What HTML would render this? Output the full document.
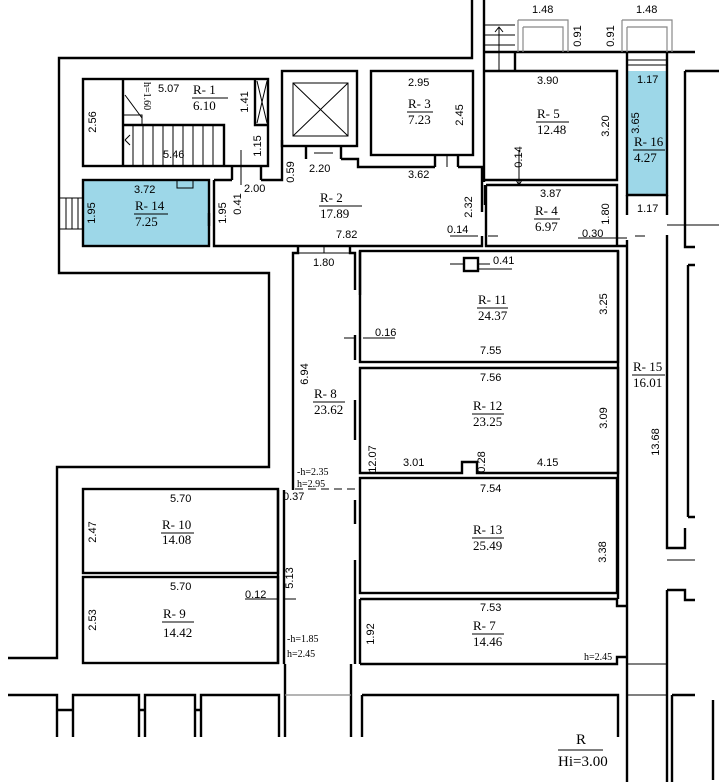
<!DOCTYPE html>
<html><head><meta charset="utf-8"><style>
html,body{margin:0;padding:0;background:#fff;}
svg{display:block;}
.w{stroke:#000;stroke-width:2.4;fill:none;}
.t{stroke:#000;stroke-width:1;fill:none;}
.g{stroke:#888;stroke-width:1.2;fill:none;}
.d{font-family:"Liberation Sans",sans-serif;font-size:11px;fill:#000;}
.v{font-family:"Liberation Sans",sans-serif;font-size:11px;fill:#000;text-anchor:middle;}
.r{font-family:"Liberation Serif",serif;font-size:13px;fill:#000;}
.s{font-family:"Liberation Serif",serif;font-size:10px;fill:#000;}
</style></head><body>
<svg width="719" height="782" viewBox="0 0 719 782" xmlns="http://www.w3.org/2000/svg">
<rect x="83" y="180" width="126" height="66" fill="#9dd7e8"/>
<rect x="627" y="71" width="40" height="124" fill="#9dd7e8"/>

<path class="w" d="M472 0 V58 H59 V273 H269 V467 H57 V658 H8"/>
<rect class="w" x="83" y="79" width="185" height="87"/>
<path class="w" d="M123 79 V166 M123 125 H224 V166"/>
<path class="t" d="M133 125 V166 M143 125 V166 M153 125 V166 M163 125 V166 M173 125 V166 M183 125 V166 M193 125 V166 M203 125 V166 M213 125 V166 M123 115 H142 V125 M125 95 L142 118 M125 140 L130 135 M125 140 L130 145"/>
<path class="w" d="M255 79 V125 H268"/>
<path class="t" d="M257 81 L267 123 M267 81 L257 123"/>
<path class="w" d="M232 166 V180 M261 166 V180"/>
<path class="t" d="M241 150 V180 M241 180 V185"/>
<rect class="w" x="83" y="180" width="126" height="66"/>
<rect class="t" x="177" y="180" width="16" height="8" fill="#fff"/>
<path class="t" d="M60 198 H83 M60 229 H83 M66 198 V229 M72 198 V229 M78 198 V229"/>
<path class="w" d="M209 213 V226"/>
<path class="t" d="M214 213 V246"/>
<path class="w" d="M214 180 H232 M261 180 H282 V140 M341 159 H358 V167 H435 M458 167 H482 V212 M482 236 V246 H214 V180"/>
<rect class="w" x="282" y="71" width="75" height="75"/>
<rect class="t" x="293" y="83" width="55" height="53"/>
<path class="t" d="M293 83 L348 136 M348 83 L293 136 M314 153 H333"/>
<path class="w" d="M306 146 V159 M341 146 V159"/>
<rect class="w" x="371" y="71" width="102" height="84"/>
<path class="w" d="M435 155 V167 M458 155 V167"/>
<path class="t" d="M447 155 V167"/>
<path class="w" d="M484 0 V182 M484 52 H695"/>
<path class="t" d="M484 25 H515 M484 35 H515 M484 45 H515 M499 71 V27 M495 32 L499 27 L503 32"/>
<path class="w" d="M515 52 V71 H617 V180 H484 M484 71 H515"/>
<path class="g" d="M518 20 H568 V52 M518 20 V52 M523 27 H563 V52 M523 27 V52"/>
<path class="g" d="M622 20 H672 V52 M622 20 V52 M627 27 H667 V52 M627 27 V52"/>
<path class="w" d="M627 52 V195 H667 V52 M685 71 V247 H695 M685 71 H719"/>
<path class="t" d="M627 60 H667 M627 65 H667"/>
<path class="w" d="M486 185 H617 V246 H486 V185 M485 185 V205 M617 246 H627"/>
<path class="t" d="M519 150 V185 M516 180 L519 185 L522 180 M578 238 H627 M635 236 H645"/>
<path class="t" d="M450 236 H478 M488 236 H498"/>
<path class="w" d="M627 195 V215 M627 240 V782 M667 195 V215 M667 235 V548 H685 V528 M688 265 V517 M688 265 H695 M688 517 H695"/>
<path class="w" d="M667 590 H685 V600 H695 M667 590 V782 M672 695 V782 M672 695 H695"/>
<path class="t" d="M627 664 H667 M627 695 H667 M667 560 H695 M667 225 H719"/>
<path class="w" d="M713 700 V780"/>
<path class="w" d="M298 246 V253 H293 V490 M350 246 V253 H355 V290 M355 335 V360 M355 400 V440 M355 500 V524 M355 560 V664 M360 251 V295"/>
<path class="t" d="M324 246 V253 M298 253 H350"/>
<path class="t" d="M295 489 H355" stroke-dasharray="8,5"/>
<path class="w" d="M278 490 V664 M284 490 V664 M285 664 V695 M351 664 V695"/>
<rect class="w" x="360" y="251" width="258" height="111"/>
<rect class="w" x="464" y="258" width="14" height="13"/>
<path class="t" d="M450 264 H464 M478 264 H490 M478 269 H512 M344 338 H356 M363 338 H395"/>
<path class="w" d="M360 368 H618 V473 H477 V462 H462 V473 H360 Z"/>
<rect class="w" x="360" y="478" width="257" height="115"/>
<path class="w" d="M360 599 H617 V606 H627 M360 664 H617 V657 H627 M360 599 V664"/>
<path class="w" d="M618 251 V599"/>
<rect class="w" x="83" y="489" width="195" height="84"/>
<rect class="w" x="83" y="577" width="195" height="86"/>
<path class="t" d="M245 599 H278 M284 599 H296"/>
<path class="w" d="M8 695 H57 V710 H73 V695 H139 V710 H145 V695 H195 V710 H201 V695 H279 V737 M57 710 V737 M73 710 V737 M139 710 V737 M145 710 V737 M195 710 V737 M201 710 V737 M285 695 V737 M351 695 V737 M362 695 V737 M362 695 H618 V737"/>
<path class="g" d="M285 695 H351"/>

<g class="d">
<text x="158" y="92">5.07</text><text x="163" y="158">5.46</text>
<text x="244" y="192">2.00</text>
<text x="134" y="193">3.72</text>
<text x="309" y="172">2.20</text>
<text x="408" y="178">3.62</text>
<text x="336" y="238">7.82</text>
<text x="447" y="233">0.14</text>
<text x="408" y="86">2.95</text>
<text x="537" y="84">3.90</text>
<text x="540" y="197">3.87</text>
<text x="582" y="237">0.30</text>
<text x="532" y="13">1.48</text><text x="636" y="13">1.48</text>
<text x="637" y="83">1.17</text>
<text x="637" y="212">1.17</text>
<text x="313" y="266">1.80</text>
<text x="493" y="264">0.41</text>
<text x="375" y="336">0.16</text>
<text x="480" y="354">7.55</text>
<text x="480" y="381">7.56</text>
<text x="403" y="466">3.01</text><text x="537" y="466">4.15</text>
<text x="480" y="492">7.54</text>
<text x="480" y="611">7.53</text>
<text x="283" y="500">0.37</text>
<text x="170" y="502">5.70</text><text x="170" y="590">5.70</text>
<text x="245" y="598">0.12</text>
</g>
<g class="v">
<text transform="translate(92,122) rotate(-90)" dy="4">2.56</text>
<text transform="translate(244,102) rotate(-90)" dy="4">1.41</text>
<text transform="translate(257,146) rotate(-90)" dy="4">1.15</text>
<text transform="translate(91,213) rotate(-90)" dy="4">1.95</text>
<text transform="translate(222,213) rotate(-90)" dy="4">1.95</text>
<text transform="translate(237,204) rotate(-90)" dy="4">0.41</text>
<text transform="translate(290,172) rotate(-90)" dy="4">0.59</text>
<text transform="translate(459,115) rotate(-90)" dy="4">2.45</text>
<text transform="translate(605,126) rotate(-90)" dy="4">3.20</text>
<text transform="translate(518,157) rotate(-90)" dy="4">0.14</text>
<text transform="translate(468,207) rotate(-90)" dy="4">2.32</text>
<text transform="translate(605,214) rotate(-90)" dy="4">1.80</text>
<text transform="translate(635,123) rotate(-90)" dy="4">3.65</text>
<text transform="translate(577,36) rotate(-90)" dy="4">0.91</text>
<text transform="translate(610,36) rotate(-90)" dy="4">0.91</text>
<text transform="translate(304,374) rotate(-90)" dy="4">6.94</text>
<text transform="translate(372,459) rotate(-90)" dy="4">12.07</text>
<text transform="translate(603,304) rotate(-90)" dy="4">3.25</text>
<text transform="translate(603,418) rotate(-90)" dy="4">3.09</text>
<text transform="translate(481,462) rotate(-90)" dy="4">0.28</text>
<text transform="translate(602,552) rotate(-90)" dy="4">3.38</text>
<text transform="translate(370,634) rotate(-90)" dy="4">1.92</text>
<text transform="translate(655,442) rotate(-90)" dy="4">13.68</text>
<text transform="translate(92,532) rotate(-90)" dy="4">2.47</text>
<text transform="translate(92,620) rotate(-90)" dy="4">2.53</text>
<text transform="translate(289,578) rotate(-90)" dy="4">5.13</text>
</g>
<g class="s">
<text transform="translate(147,96) rotate(90)" text-anchor="middle" dy="3">h=1.60</text>
<text x="297" y="475">-h=2.35</text><text x="297" y="487">h=2.95</text>
<text x="287" y="642">-h=1.85</text><text x="287" y="657">h=2.45</text>
<text x="584" y="660">h=2.45</text>
</g>
<g class="r">
<text x="193" y="94">R- 1</text><path class="t" d="M192 98 H228"/><text x="193" y="110">6.10</text>
<text x="135" y="210">R- 14</text><path class="t" d="M134 214 H168"/><text x="135" y="226">7.25</text>
<text x="320" y="202">R- 2</text><path class="t" d="M319 206 H362"/><text x="320" y="218">17.89</text>
<text x="408" y="108">R- 3</text><path class="t" d="M407 112 H433"/><text x="408" y="124">7.23</text>
<text x="537" y="118">R- 5</text><path class="t" d="M536 122 H569"/><text x="537" y="134">12.48</text>
<text x="634" y="146">R- 16</text><path class="t" d="M633 150 H665"/><text x="634" y="162">4.27</text>
<text x="535" y="215">R- 4</text><path class="t" d="M534 219 H560"/><text x="535" y="231">6.97</text>
<text x="478" y="304">R- 11</text><path class="t" d="M477 308 H508"/><text x="478" y="320">24.37</text>
<text x="473" y="410">R- 12</text><path class="t" d="M472 414 H504"/><text x="473" y="426">23.25</text>
<text x="473" y="534">R- 13</text><path class="t" d="M472 538 H504"/><text x="473" y="550">25.49</text>
<text x="473" y="630">R- 7</text><path class="t" d="M472 634 H504"/><text x="473" y="646">14.46</text>
<text x="633" y="371">R- 15</text><path class="t" d="M632 375 H665"/><text x="633" y="387">16.01</text>
<text x="314" y="398">R- 8</text><path class="t" d="M313 402 H345"/><text x="314" y="414">23.62</text>
<text x="162" y="529">R- 10</text><path class="t" d="M161 533 H194"/><text x="162" y="544">14.08</text>
<text x="163" y="618">R- 9</text><path class="t" d="M162 622 H194"/><text x="163" y="637">14.42</text>
<text x="576" y="744" style="font-size:15px">R</text><path class="t" d="M558 750 H603"/>
<text x="558" y="766" style="font-size:15px">Hi=3.00</text>
</g>
</svg>
</body></html>
